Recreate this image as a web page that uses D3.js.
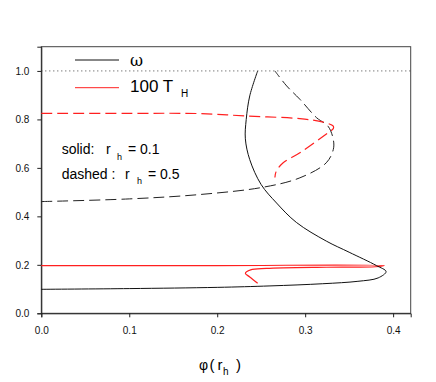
<!DOCTYPE html>
<html>
<head>
<meta charset="utf-8">
<script src="https://cdn.jsdelivr.net/npm/d3@7"></script>
<style>
  body { margin: 0; background: #fff; }
  svg { font-family: "Liberation Sans", Arial, sans-serif; }
</style>
</head>
<body>
<div id="root"></div>
<script>
const w = 436, h = 382
const margin = {top: 46.7, right: 25.3, bottom: 68.7, left: 41.3}

// data: [phi(r_h), value]
const omegaSolid = [
  [0, 0.099], [0.1, 0.102], [0.2, 0.107], [0.26, 0.113], [0.32, 0.122],
  [0.36, 0.132], [0.383, 0.146], [0.392, 0.172], [0.381, 0.197],
  [0.35, 0.252], [0.324, 0.298], [0.29, 0.375], [0.2675, 0.455],
  [0.25, 0.531], [0.237, 0.634], [0.232, 0.72], [0.233, 0.8],
  [0.237, 0.897], [0.246, 1.0]
]
const tempSolid = [
  [0, 0.197], [0.2, 0.197], [0.39, 0.197], [0.38, 0.192], [0.324, 0.19],
  [0.256, 0.185], [0.238, 0.179], [0.232, 0.165], [0.237, 0.15], [0.246, 0.124]
]
const omegaDashed = [
  [0, 0.461], [0.1, 0.472], [0.18, 0.49], [0.252, 0.52], [0.294, 0.559],
  [0.324, 0.621], [0.332, 0.676], [0.332, 0.717], [0.326, 0.772],
  [0.313, 0.807], [0.294, 0.883], [0.279, 0.938], [0.2656, 1.0]
]
const tempDashed = [
  [0, 0.825], [0.1, 0.825], [0.18, 0.824], [0.233, 0.814], [0.294, 0.803],
  [0.3205, 0.789], [0.332, 0.772], [0.332, 0.762], [0.326, 0.745],
  [0.294, 0.662], [0.275, 0.621], [0.267, 0.585], [0.2656, 0.56]
]
const xTicks = [0, 0.1, 0.2, 0.3, 0.4]
const yTicks = [0, 0.2, 0.4, 0.6, 0.8, 1.0]

const x = d3.scaleLinear().domain([0, 0.42]).range([margin.left, w - margin.right])
const y = d3.scaleLinear().domain([0, 1.1]).range([h - margin.bottom, margin.top])

const svg = d3.select("#root").append("svg")
  .attr("width", w)
  .attr("height", h)

// frame
svg.append("rect")
  .attr("x", x(0)).attr("y", y(1.1))
  .attr("width", x(0.42) - x(0)).attr("height", y(0) - y(1.1))
  .attr("fill", "none").attr("stroke", "#444").attr("stroke-width", 1)

// dotted line at 1.0
svg.append("line")
  .attr("x1", x(0)).attr("x2", x(0.42))
  .attr("y1", y(1)).attr("y2", y(1))
  .attr("stroke", "#444").attr("stroke-width", 1)
  .attr("stroke-dasharray", "1,3")

// axes
const xAxis = svg.append("g")
  .attr("transform", `translate(0,${y(0)})`)
  .call(d3.axisBottom(x).tickValues(xTicks).tickFormat(d3.format(".1f")).tickSize(4).tickPadding(10))
const yAxis = svg.append("g")
  .attr("transform", `translate(${x(0)},0)`)
  .call(d3.axisLeft(y).tickValues(yTicks).tickFormat(d3.format(".1f")).tickSize(4).tickPadding(8))
;[xAxis, yAxis].forEach(g => {
  g.select(".domain").attr("stroke", "#222")
  g.selectAll(".tick line").attr("stroke", "#222")
  g.selectAll(".tick text").attr("font-size", 10).attr("fill", "#111")
    .attr("font-family", "Liberation Sans, Arial, sans-serif")
})
yAxis.selectAll(".tick text").attr("dy", "0.35em")

// curves
const line = d3.line()
  .x(d => x(d[0]))
  .y(d => y(d[1]))
  .curve(d3.curveCatmullRom.alpha(0.5))

const series = [
  {data: tempSolid, color: "#ff2020", dash: null, width: 1.2},
  {data: omegaSolid, color: "#111", dash: null, width: 1},
  {data: omegaDashed, color: "#222", dash: "11,5", width: 1},
  {data: tempDashed, color: "#ff2020", dash: "11,5", width: 1.2}
]
svg.selectAll("path.curve").data(series).enter().append("path")
  .attr("class", "curve")
  .attr("d", d => line(d.data))
  .attr("fill", "none")
  .attr("stroke", d => d.color)
  .attr("stroke-width", d => d.width)
  .attr("stroke-dasharray", d => d.dash)

// legend
svg.append("line").attr("x1", 75).attr("x2", 119).attr("y1", 60).attr("y2", 60)
  .attr("stroke", "#111").attr("stroke-width", 1)
svg.append("text").attr("x", 130).attr("y", 66).attr("font-size", 16)
  .attr("font-family", "DejaVu Serif, serif").text("ω")
svg.append("line").attr("x1", 75).attr("x2", 119).attr("y1", 87.7).attr("y2", 87.7)
  .attr("stroke", "#ff2020").attr("stroke-width", 1)
svg.append("text").attr("x", 130).attr("y", 92).attr("font-size", 17).text("100 T")
svg.append("text").attr("x", 181).attr("y", 97).attr("font-size", 10).text("H")

// annotations
const note1 = svg.append("text").attr("y", 154.3).attr("font-size", 14)
note1.append("tspan").attr("x", 61.7).text("solid:")
note1.append("tspan").attr("x", 106).text("r")
note1.append("tspan").attr("x", 117).attr("y", 159.5).attr("font-size", 9).text("h")
note1.append("tspan").attr("x", 128).attr("y", 154.3).text("= 0.1")

const note2 = svg.append("text").attr("y", 179).attr("font-size", 14)
note2.append("tspan").attr("x", 61.7).text("dashed :")
note2.append("tspan").attr("x", 125).text("r")
note2.append("tspan").attr("x", 137).attr("y", 184.2).attr("font-size", 9).text("h")
note2.append("tspan").attr("x", 148).attr("y", 179).text("= 0.5")

// axis title
const xt = svg.append("text").attr("y", 370).attr("font-size", 15)
xt.append("tspan").attr("x", 199).attr("font-size", 14).text("φ")
xt.append("tspan").attr("x", 209.5).text("(")
xt.append("tspan").attr("x", 217.5).text("r")
xt.append("tspan").attr("x", 223).attr("y", 374.5).attr("font-size", 10).text("h")
xt.append("tspan").attr("x", 236).attr("y", 370).text(")")
</script>
</body>
</html>
